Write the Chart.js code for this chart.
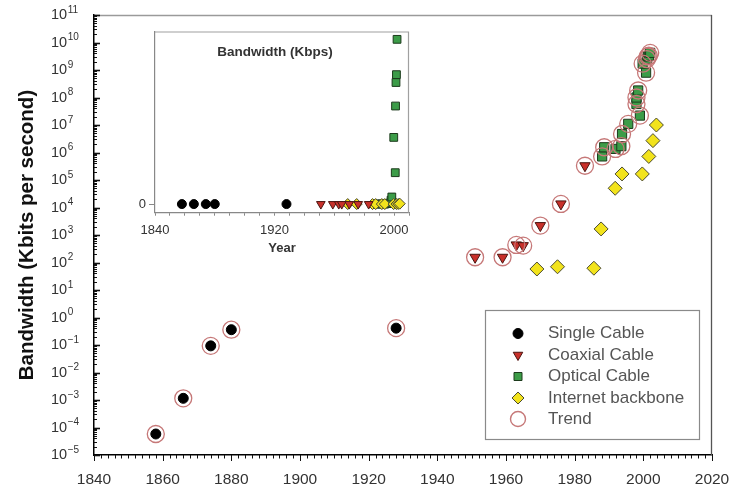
<!DOCTYPE html>
<html><head><meta charset="utf-8">
<script src="https://cdn.jsdelivr.net/npm/chart.js@4.4.1/dist/chart.umd.min.js"></script>
<style>
html,body{margin:0;padding:0;background:#fff;}
#wrap{position:relative;width:730px;height:494px;overflow:hidden;}
#main{position:absolute;left:0;top:0;}
#inset{position:absolute;left:130px;top:25px;}
</style></head><body>
<div id="wrap"><canvas id="main" width="730" height="494"></canvas><canvas id="inset" width="290" height="235"></canvas></div>
<script>
// ---- data (years, bandwidth in Kbit/s) ----
const singleYears   = [1858, 1866, 1874, 1880, 1928];
const singleValues  = [5.8e-5, 1.15e-3, 0.093, 0.36, 0.41];

const coaxYears     = [1951, 1959, 1963, 1965, 1970, 1976, 1983];
const coaxValues    = [155, 155, 436, 410, 2200, 13500, 3.3e5];

const opticalYears  = [1988, 1988.6, 1991.9, 1993.6, 1993.8, 1995.6, 1999, 1998, 1998, 1998.5, 2000.8, 1999.8, 2001, 2001.3, 2001.6, 2002];
const opticalValues = [7.2e5, 1.55e6, 1.35e6, 1.7e6, 4.7e6, 1.1e7, 2.2e7, 5.8e7, 1e8, 1.8e8, 8e8, 1.7e9, 2.5e9, 3.1e9, 3.3e9, 4.2e9];

const backboneYears  = [1969, 1975, 1985.6, 1987.7, 1991.8, 1993.8, 1999.7, 2001.6, 2002.8, 2003.8];
const backboneValues = [58, 70, 62, 1660, 5e4, 1.66e5, 1.66e5, 7.2e5, 2.7e6, 1e7];

const xTickLabels   = [1840, 1860, 1880, 1900, 1920, 1940, 1960, 1980, 2000, 2020];
const yTickExponents = [-5, -4, -3, -2, -1, 0, 1, 2, 3, 4, 5, 6, 7, 8, 9, 10, 11];
const insetXTicks   = [1840, 1850, 1860, 1870, 1880, 1890, 1900, 1910, 1920, 1930, 1940, 1950, 1960, 1970, 1980, 1990, 2000, 2010];
const insetXLabels  = [1840, 1920, 2000];

const seriesNames = ['Single Cable', 'Coaxial Cable', 'Optical Cable', 'Internet backbone', 'Trend'];

// ---- styles ----
const FONT = '"Liberation Sans", Arial, Helvetica, sans-serif';
const C_SINGLE = '#000000', C_COAX = '#c8302a', C_COAX_B = '#4a1410';
const C_OPT = '#3c9c48', C_OPT_B = '#1c3a1c', C_NET = '#f2e31c', C_NET_B = '#4a4a30', C_TREND = '#c67878';

const toPts = (xs, ys) => xs.map((x, i) => ({x: x, y: ys[i]}));

function noPad(s) { s.paddingLeft = 0; s.paddingRight = 0; s.paddingTop = 0; s.paddingBottom = 0; }

function drawMarker(ctx, style, x, y, r, fill, stroke, lw) {
  ctx.beginPath();
  if (style === 'circle') {
    ctx.arc(x, y, r, 0, Math.PI * 2);
  } else if (style === 'triangleDown') {
    const h = r;
    ctx.moveTo(x, y + h);
    ctx.lineTo(x - h * 0.866, y - h * 0.5);
    ctx.lineTo(x + h * 0.866, y - h * 0.5);
    ctx.closePath();
  } else if (style === 'rect') {
    ctx.rect(x - r, y - r, 2 * r, 2 * r);
  } else if (style === 'diamond') {
    ctx.moveTo(x, y - r); ctx.lineTo(x + r, y); ctx.lineTo(x, y + r); ctx.lineTo(x - r, y); ctx.closePath();
  }
  if (fill) { ctx.fillStyle = fill; ctx.fill(); }
  if (stroke) { ctx.strokeStyle = stroke; ctx.lineWidth = lw || 1; ctx.stroke(); }
}

const mainDeco = {
  id: 'mainDeco',
  afterDraw(chart) {
    const {ctx, chartArea: a, scales: {x, y}} = chart;
    ctx.save();
    // frame top and right
    ctx.lineWidth = 1.3;
    ctx.strokeStyle = '#9a9a9a';
    ctx.beginPath(); ctx.moveTo(a.left, a.top + 0.5); ctx.lineTo(a.right, a.top + 0.5); ctx.stroke();
    ctx.strokeStyle = '#555';
    ctx.beginPath(); ctx.moveTo(a.right - 0.5, a.top); ctx.lineTo(a.right - 0.5, a.bottom); ctx.stroke();
    // x ticks (below axis)
    ctx.strokeStyle = '#111'; ctx.lineWidth = 1;
    for (let v = 1840; v <= 2020; v += 2) {
      const px = Math.round(x.getPixelForValue(v)) + 0.5;
      const len = (v % 20 === 0) ? 6 : 3.5;
      ctx.beginPath(); ctx.moveTo(px, a.bottom); ctx.lineTo(px, a.bottom + len); ctx.stroke();
    }
    // y ticks (inside) and labels
    for (const e of yTickExponents) {
      for (let k = 1; k <= 9; k++) {
        if (e === yTickExponents[yTickExponents.length - 1] && k > 1) break;
        const py = Math.round(y.getPixelForValue(k * Math.pow(10, e))) + 0.5;
        const len = k === 1 ? 6 : 3;
        ctx.lineWidth = k === 1 ? 1.6 : 1;
        ctx.beginPath(); ctx.moveTo(a.left, py); ctx.lineTo(a.left + len, py); ctx.stroke();
      }
      const py = y.getPixelForValue(Math.pow(10, e));
      ctx.fillStyle = '#333';
      ctx.textAlign = 'left'; ctx.textBaseline = 'middle';
      ctx.font = '14.5px ' + FONT;
      ctx.fillText('10', 51, py);
      const w = ctx.measureText('10').width;
      ctx.font = '10px ' + FONT;
      ctx.fillText(e < 0 ? '\u2212' + Math.abs(e) : String(e), 51 + w + 0.5, py - 5);
    }
    // legend
    const lx = 485, ly = 310, lw = 214, lh = 129;
    ctx.fillStyle = '#fff'; ctx.fillRect(lx, ly, lw, lh);
    ctx.strokeStyle = '#8a8a8a'; ctx.lineWidth = 1.2; ctx.strokeRect(lx + 0.5, ly + 0.5, lw, lh);
    const rows = [333.5, 355, 376.5, 398, 419];
    const mk = [
      ['circle', 5, C_SINGLE, C_SINGLE],
      ['triangleDown', 5.5, C_COAX, C_COAX_B],
      ['rect', 4, C_OPT, C_OPT_B],
      ['diamond', 6, C_NET, C_NET_B],
      ['circle', 7.5, null, C_TREND]
    ];
    ctx.font = '17px ' + FONT;
    for (let i = 0; i < seriesNames.length; i++) {
      const m = mk[i];
      drawMarker(ctx, m[0], 518, rows[i], m[1], m[2], m[3], i === 4 ? 1.4 : 1);
      ctx.fillStyle = '#555'; ctx.textAlign = 'left'; ctx.textBaseline = 'middle';
      ctx.fillText(seriesNames[i], 548, rows[i]);
    }
    ctx.restore();
  }
};

new Chart(document.getElementById('main'), {
  type: 'scatter',
  data: {
    datasets: [
      {label: seriesNames[4], data: [...toPts(singleYears, singleValues), ...toPts(coaxYears, coaxValues), ...toPts(opticalYears, opticalValues)],
       pointStyle: 'circle', pointRadius: 8.5, backgroundColor: 'rgba(0,0,0,0)', borderColor: C_TREND, borderWidth: 1.3, order: -1},
      {label: seriesNames[0], data: toPts(singleYears, singleValues), pointStyle: 'circle', pointRadius: 5,
       backgroundColor: C_SINGLE, borderColor: C_SINGLE, borderWidth: 1},
      {label: seriesNames[1], data: toPts(coaxYears, coaxValues), pointStyle: 'triangle', rotation: 180, pointRadius: 6,
       backgroundColor: C_COAX, borderColor: C_COAX_B, borderWidth: 1},
      {label: seriesNames[2], data: toPts(opticalYears, opticalValues), pointStyle: 'rect', pointRadius: 6.5,
       backgroundColor: C_OPT, borderColor: C_OPT_B, borderWidth: 1},
      {label: seriesNames[3], data: toPts(backboneYears, backboneValues), pointStyle: 'rectRot', pointRadius: 7,
       backgroundColor: C_NET, borderColor: C_NET_B, borderWidth: 1}
    ]
  },
  options: {
    responsive: false, animation: false, events: [],
    layout: {padding: {top: 15, right: 18, left: 0, bottom: 0}},
    plugins: {legend: {display: false}, tooltip: {enabled: false}},
    scales: {
      x: {
        type: 'linear', min: 1840, max: 2020, position: 'bottom',
        afterFit(s) { s.height = 39; noPad(s); },
        afterBuildTicks(s) { s.ticks = xTickLabels.map(v => ({value: v})); },
        ticks: {font: {family: FONT, size: 15.5}, color: '#333', padding: 7.5, maxRotation: 0, autoSkip: false, callback: v => String(v)},
        grid: {display: false},
        border: {display: true, color: '#000', width: 1.5}
      },
      y: {
        type: 'logarithmic', min: 1e-5, max: 1e11, position: 'left',
        afterFit(s) { s.width = 94; noPad(s); },
        ticks: {display: false},
        grid: {display: false},
        border: {display: true, color: '#000', width: 1.5},
        title: {display: true, text: 'Bandwidth (Kbits per second)', font: {family: FONT, size: 20.5, weight: 'bold'},
                color: '#111', padding: {top: 15.5, bottom: 0}}
      }
    }
  },
  plugins: [mainDeco]
});

const insetDeco = {
  id: 'insetDeco',
  afterDraw(chart) {
    const {ctx, chartArea: a} = chart;
    ctx.save();
    ctx.strokeStyle = '#a0a0a0'; ctx.lineWidth = 1.2;
    ctx.beginPath(); ctx.moveTo(a.left, a.top + 0.5); ctx.lineTo(a.right - 0.5, a.top + 0.5); ctx.lineTo(a.right - 0.5, a.bottom); ctx.stroke();
    ctx.fillStyle = '#333'; ctx.font = 'bold 13.5px ' + FONT; ctx.textAlign = 'center'; ctx.textBaseline = 'middle';
    ctx.fillText('Bandwidth (Kbps)', 145, 27);
    ctx.restore();
  },
  beforeDraw(chart) {
    const {ctx} = chart;
    ctx.save(); ctx.fillStyle = '#fff'; ctx.fillRect(0, 0, chart.width, chart.height); ctx.restore();
  }
};

new Chart(document.getElementById('inset'), {
  type: 'scatter',
  data: {
    datasets: [
      {label: seriesNames[0], data: toPts(singleYears, singleValues), pointStyle: 'circle', pointRadius: 4.5,
       backgroundColor: C_SINGLE, borderColor: C_SINGLE, borderWidth: 1},
      {label: seriesNames[1], data: toPts(coaxYears, coaxValues), pointStyle: 'triangle', rotation: 180, pointRadius: 5,
       backgroundColor: C_COAX, borderColor: C_COAX_B, borderWidth: 1},
      {label: seriesNames[3], data: toPts(backboneYears, backboneValues), pointStyle: 'rectRot', pointRadius: 5.5,
       backgroundColor: C_NET, borderColor: C_NET_B, borderWidth: 1},
      {label: seriesNames[2], data: toPts(opticalYears, opticalValues), pointStyle: 'rect', pointRadius: 5.5,
       backgroundColor: C_OPT, borderColor: C_OPT_B, borderWidth: 1}
    ]
  },
  options: {
    responsive: false, animation: false, events: [],
    layout: {padding: {top: 5, right: 11, left: 0, bottom: 0}},
    plugins: {legend: {display: false}, tooltip: {enabled: false}},
    scales: {
      x: {
        type: 'linear', min: 1840, max: 2010, position: 'bottom',
        afterFit(s) { s.height = 47.3; noPad(s); },
        afterBuildTicks(s) { s.ticks = insetXTicks.map(v => ({value: v})); },
        ticks: {font: {family: FONT, size: 13}, color: '#333', padding: 7, maxRotation: 0, autoSkip: false,
                callback: v => insetXLabels.includes(v) ? String(v) : ''},
        grid: {drawOnChartArea: false, drawTicks: true, tickLength: 3, color: '#888'},
        border: {display: true, color: '#888', width: 1.2},
        title: {display: true, text: 'Year', font: {family: FONT, size: 13, weight: 'bold'}, color: '#333', padding: {top: 0, bottom: 4.2}}
      },
      y: {
        type: 'linear', min: -2.2e8, max: 4.4e9, position: 'left',
        afterFit(s) { s.width = 25; noPad(s); },
        afterBuildTicks(s) { s.ticks = [{value: 0}]; },
        ticks: {font: {family: FONT, size: 13}, color: '#333', padding: 3, callback: () => '0'},
        grid: {drawOnChartArea: false, drawTicks: true, tickLength: 6, color: '#888'},
        border: {display: true, color: '#888', width: 1.2}
      }
    }
  },
  plugins: [insetDeco]
});
</script>
</body></html>
